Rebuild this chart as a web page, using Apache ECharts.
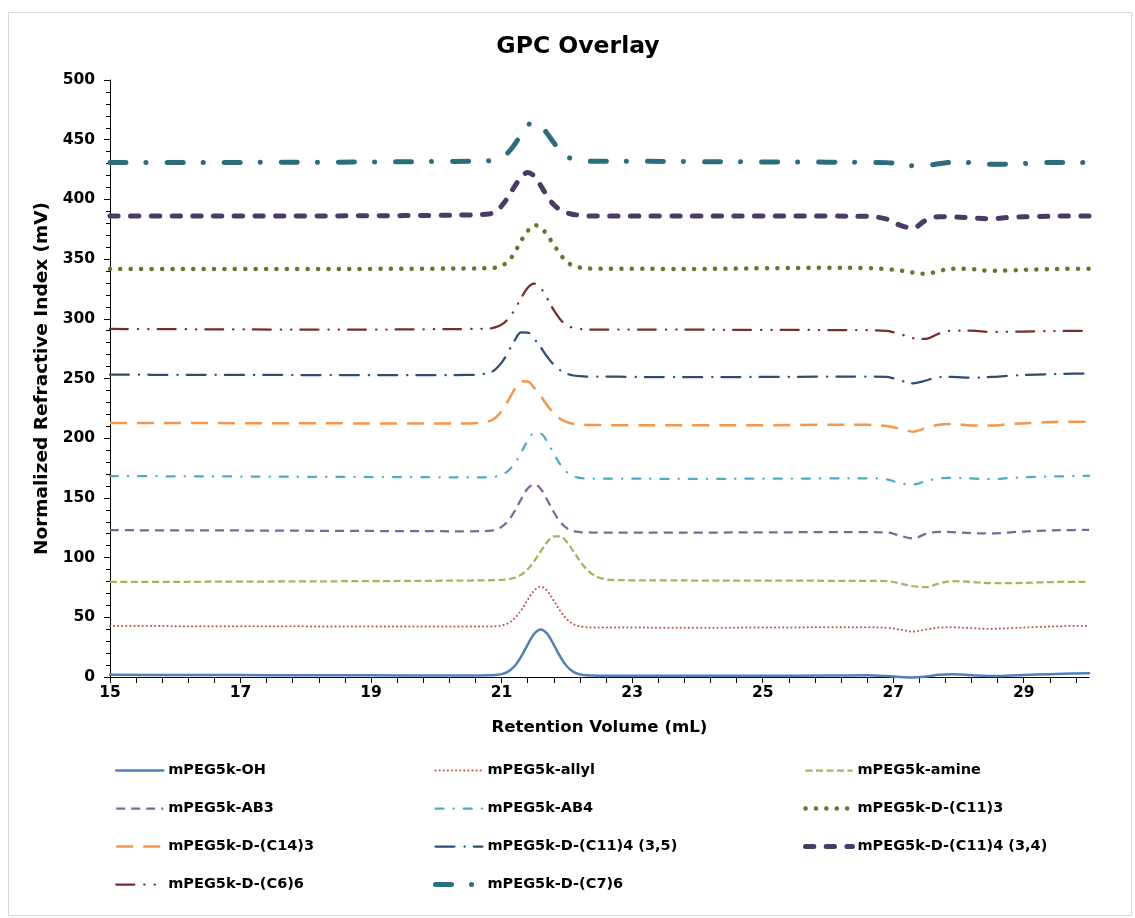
<!DOCTYPE html>
<html>
<head>
<meta charset="utf-8">
<script src="https://cdn.jsdelivr.net/npm/echarts@6/dist/echarts.min.js"></script>
<style>
  html, body { margin: 0; padding: 0; background: #ffffff; }
  #chart { width: 1135px; height: 918px; }
</style>
</head>
<body>
<div id="chart"></div>
<script>
// Retention volume (mL) sampling points shared by all traces
const retentionVolume = [15, 16, 17, 18, 19, 20, 20.5, 20.8, 20.9, 21, 21.1, 21.2, 21.3, 21.4, 21.5, 21.6, 21.7, 21.8, 21.9, 22, 22.1, 22.2, 22.3, 22.4, 22.5, 22.6, 22.7, 22.8, 23, 23.5, 24, 25, 26, 26.6, 26.9, 27.1, 27.3, 27.5, 27.7, 27.9, 28.2, 28.5, 28.8, 29.2, 29.6, 30];

// Normalized refractive index (mV), one array per sample (offset overlay)
const riOH = [1.8, 1.7, 1.6, 1.5, 1.4, 1.3, 1.3, 1.4, 1.6, 2.4, 4.5, 9.2, 17.1, 27.2, 36.2, 39.8, 36.1, 27.0, 16.9, 9.0, 4.3, 2.2, 1.4, 1.2, 1.1, 1.1, 1.1, 1.1, 1.1, 1.0, 1.0, 1.0, 1.2, 1.4, 0.8, 0.0, -0.4, 0.4, 1.8, 2.2, 1.5, 0.8, 1.2, 2.0, 2.7, 3.1];
const riAllyl = [42.7, 42.6, 42.5, 42.4, 42.3, 42.2, 42.2, 42.3, 42.5, 43.1, 45.0, 49.1, 55.9, 64.7, 72.5, 75.7, 72.0, 64.0, 55.2, 48.4, 44.3, 42.4, 41.7, 41.5, 41.4, 41.4, 41.4, 41.4, 41.4, 41.3, 41.3, 41.4, 41.6, 41.6, 41.2, 39.8, 38.0, 39.8, 41.4, 41.6, 41.0, 40.3, 41.0, 41.8, 42.6, 42.8];
const riAmine = [79.6, 79.7, 79.9, 80.1, 80.3, 80.6, 80.8, 81.0, 81.1, 81.3, 81.8, 83.1, 85.7, 90.3, 97.1, 105.3, 113.0, 117.7, 117.7, 113.0, 105.3, 97.1, 90.3, 85.7, 83.1, 81.8, 81.3, 81.1, 81.0, 80.9, 80.8, 80.7, 80.6, 80.5, 80.3, 78.5, 76.0, 75.3, 78.3, 80.3, 79.6, 78.6, 78.6, 79.2, 79.6, 79.6];
const riAB3 = [123.0, 122.8, 122.7, 122.5, 122.3, 122.1, 122.0, 122.4, 123.3, 125.7, 130.7, 138.9, 149.0, 157.9, 161.3, 157.5, 148.3, 138.0, 129.7, 124.7, 122.3, 121.4, 121.1, 121.0, 121.0, 121.0, 121.0, 121.0, 121.0, 121.0, 121.0, 121.1, 121.3, 121.3, 121.0, 118.5, 116.0, 119.8, 121.6, 121.3, 120.5, 120.2, 121.2, 122.4, 123.0, 123.2];
const riAB4 = [168.3, 168.1, 167.9, 167.7, 167.5, 167.3, 167.2, 167.3, 167.8, 169.3, 172.7, 179.0, 188.1, 197.8, 204.2, 203.8, 196.9, 187.1, 177.9, 171.6, 168.2, 166.7, 166.3, 166.2, 166.2, 166.1, 166.1, 166.1, 166.1, 166.0, 166.0, 166.1, 166.3, 166.4, 165.6, 162.5, 161.2, 164.0, 166.3, 166.8, 166.3, 165.6, 166.7, 167.6, 168.1, 168.4];
const riC11x3 = [341.8, 341.8, 341.7, 341.7, 341.8, 342.0, 342.2, 342.3, 342.8, 344.5, 348.0, 355.5, 365.5, 373.5, 378.5, 376.5, 370.0, 362.0, 354.0, 347.5, 344.5, 343.0, 342.3, 342.0, 342.0, 341.9, 341.9, 341.9, 341.9, 341.8, 341.8, 342.3, 342.8, 342.5, 341.5, 340.6, 338.8, 337.7, 340.0, 342.0, 341.6, 340.2, 340.6, 341.4, 341.8, 342.0];
const riC14x3 = [212.8, 212.7, 212.6, 212.5, 212.4, 212.4, 212.4, 214.1, 216.9, 222.7, 231.4, 241.0, 247.6, 247.4, 242.2, 235.2, 227.5, 220.9, 216.2, 213.4, 212.0, 211.4, 211.1, 211.0, 211.0, 211.0, 210.9, 210.9, 210.9, 210.8, 210.8, 210.9, 211.2, 211.2, 210.2, 208.0, 205.5, 208.5, 211.3, 211.9, 210.7, 210.6, 212.0, 213.0, 213.8, 213.8];
const riC11x4a = [253.2, 253.1, 253.0, 252.9, 252.8, 252.8, 253.0, 254.6, 257.5, 263.3, 272.1, 281.9, 288.6, 288.5, 283.1, 276.0, 268.2, 261.5, 256.8, 254.0, 252.5, 251.9, 251.6, 251.5, 251.5, 251.5, 251.5, 251.5, 251.3, 251.2, 251.2, 251.3, 251.5, 251.6, 251.3, 248.5, 246.0, 248.3, 251.2, 251.3, 250.7, 251.3, 252.3, 253.3, 253.9, 254.2];
const riC11x4b = [386.0, 386.0, 386.0, 386.1, 386.3, 386.6, 387.0, 387.8, 389.5, 394.5, 402.0, 411.0, 418.6, 422.5, 419.5, 411.5, 402.5, 395.5, 391.2, 388.8, 387.4, 386.8, 386.3, 386.1, 386.0, 386.0, 386.0, 386.0, 386.0, 386.0, 386.0, 386.0, 386.0, 385.8, 383.5, 378.5, 376.0, 382.5, 385.5, 385.4, 384.5, 383.8, 385.0, 385.6, 386.0, 386.0];
const riC6x6 = [291.5, 291.3, 291.1, 291.0, 291.0, 291.3, 291.5, 291.9, 292.8, 295.1, 299.9, 307.7, 317.5, 326.1, 329.5, 325.6, 317.0, 307.2, 299.4, 294.6, 292.3, 291.4, 291.1, 291.0, 291.0, 291.0, 291.0, 291.0, 291.0, 291.0, 290.9, 290.7, 290.6, 290.5, 289.8, 287.3, 283.8, 283.2, 287.6, 290.0, 290.0, 289.0, 289.2, 289.5, 289.8, 290.0];
const riC7x6 = [431.0, 431.0, 431.0, 431.1, 431.3, 431.7, 432.0, 432.3, 433.1, 435.1, 439.3, 446.1, 454.6, 462.0, 465.0, 462.0, 455.0, 447.5, 440.5, 436.0, 433.6, 432.5, 432.1, 432.0, 432.0, 432.0, 432.0, 432.0, 432.0, 431.8, 431.6, 431.4, 431.2, 431.0, 430.8, 429.8, 428.2, 428.4, 429.8, 431.0, 430.8, 429.5, 429.6, 430.6, 431.0, 431.0];

// Axis tick labels
const xLabelValues = [15, 17, 19, 21, 23, 25, 27, 29];

const FONT = 'DejaVu Sans';

// Trace styling: colour, width, dash pattern, cap
const traces = [
  { name: 'mPEG5k-OH', data: riOH, color: '#4F81BD', width: 2.5, type: 'solid', cap: 'round' },
  { name: 'mPEG5k-allyl', data: riAllyl, color: '#C0504D', width: 2, type: [0.1, 4], cap: 'round' },
  { name: 'mPEG5k-amine', data: riAmine, color: '#9BBB59', width: 2.25, type: [7, 3.5], cap: 'butt' },
  { name: 'mPEG5k-AB3', data: riAB3, color: '#8064A2', width: 2.25, type: [9, 6], cap: 'butt' },
  { name: 'mPEG5k-AB4', data: riAB4, color: '#4BACC6', width: 2.25, type: [8, 10, 0.3, 10], cap: 'round' },
  { name: 'mPEG5k-D-(C11)3', data: riC11x3, color: '#5F7A2F', width: 4.5, type: [0.1, 10.3], cap: 'round' },
  { name: 'mPEG5k-D-(C14)3', data: riC14x3, color: '#F79646', width: 2.5, type: [17, 10], cap: 'butt' },
  { name: 'mPEG5k-D-(C11)4 (3,5)', data: riC11x4a, color: '#2C4D75', width: 2.25, type: [19, 10, 0.3, 9], cap: 'round' },
  { name: 'mPEG5k-D-(C11)4 (3,4)', data: riC11x4b, color: '#4B3A64', width: 5, type: [8.3, 12.4], cap: 'round' },
  { name: 'mPEG5k-D-(C6)6', data: riC6x6, color: '#772C2A', width: 2.25, type: [18, 10, 0.3, 10, 0.3, 9], cap: 'round' },
  { name: 'mPEG5k-D-(C7)6', data: riC7x6, color: '#2A6E7E', width: 5, type: [16, 20, 0.1, 21], cap: 'round' }
];

const legendColumns = [
  { left: 115, names: ['mPEG5k-OH', 'mPEG5k-AB3', 'mPEG5k-D-(C14)3', 'mPEG5k-D-(C6)6'] },
  { left: 433, names: ['mPEG5k-allyl', 'mPEG5k-AB4', 'mPEG5k-D-(C11)4 (3,5)', 'mPEG5k-D-(C7)6'] },
  { left: 803, names: ['mPEG5k-amine', 'mPEG5k-D-(C11)3', 'mPEG5k-D-(C11)4 (3,4)'] }
];

// Minor/major tick positions along the retention axis, every 0.4 mL
const xTickValues = [];
for (let i = 0; i <= 37; i++) xTickValues.push(Math.round((15 + i * 0.4) * 10) / 10);

const chart = echarts.init(document.getElementById('chart'), null, { renderer: 'canvas' });

const option = {
  animation: false,
  backgroundColor: '#ffffff',
  title: {
    text: 'GPC Overlay',
    left: 573,
    top: 30,
    textAlign: 'center',
    textStyle: { fontFamily: FONT, fontWeight: 'bold', fontSize: 23.5, color: '#000000' }
  },
  graphic: [{
    type: 'rect',
    shape: { x: 8.5, y: 12.5, width: 1123, height: 903 },
    style: { fill: 'none', stroke: '#d9d9d9', lineWidth: 1 },
    silent: true,
    z: -1
  }],
  grid: { left: 110, right: 46, top: 80, bottom: 241, containLabel: false },
  legend: legendColumns.map(col => ({
    orient: 'vertical',
    left: col.left,
    top: 763,
    padding: 0,
    itemWidth: 47,
    itemHeight: 14,
    itemGap: 23,
    selectedMode: false,
    // each key uses its own trace's line width and dash pattern, without a marker
    data: col.names.map(name => {
      const t = traces.find(tr => tr.name === name);
      return {
        name: name,
        lineStyle: { color: t.color, width: t.width, type: t.type, cap: t.cap },
        itemStyle: { color: 'rgba(0,0,0,0)', borderColor: 'rgba(0,0,0,0)', borderWidth: 0 }
      };
    }),
    textStyle: { fontFamily: FONT, fontWeight: 'bold', fontSize: 14.5, color: '#000000', lineHeight: 14 }
  })),
  xAxis: {
    type: 'value',
    min: 15,
    max: 30,
    name: 'Retention Volume (mL)',
    nameLocation: 'middle',
    nameGap: 42,
    nameTextStyle: { fontFamily: FONT, fontWeight: 'bold', fontSize: 16.6, color: '#000000' },
    axisLine: { show: true, onZero: false, lineStyle: { color: '#000000', width: 1 } },
    axisTick: { show: true, length: 6, customValues: xTickValues, lineStyle: { color: '#000000', width: 1 } },
    axisLabel: { customValues: xLabelValues, margin: 8, fontFamily: FONT, fontWeight: 'bold', fontSize: 15.5, color: '#000000' },
    splitLine: { show: false }
  },
  yAxis: {
    type: 'value',
    min: 0,
    max: 500,
    interval: 50,
    name: 'Normalized Refractive Index (mV)',
    nameLocation: 'middle',
    nameGap: 56,
    nameRotate: 90,
    nameTextStyle: { fontFamily: FONT, fontWeight: 'bold', fontSize: 18.5, color: '#000000' },
    axisLine: { show: true, lineStyle: { color: '#000000', width: 1 } },
    axisTick: { show: true, length: 6, lineStyle: { color: '#000000', width: 1 } },
    minorTick: { show: true, splitNumber: 5, length: 4, lineStyle: { color: '#000000', width: 1 } },
    axisLabel: { margin: 15, fontFamily: FONT, fontWeight: 'bold', fontSize: 15.5, color: '#000000' },
    splitLine: { show: false },
    minorSplitLine: { show: false }
  },
  series: traces.map(t => ({
    name: t.name,
    type: 'line',
    data: retentionVolume.map((x, i) => [x, t.data[i]]),
    smooth: 0.35,
    showSymbol: false,
    symbol: 'none',
    clip: false,
    color: t.color,
    lineStyle: { color: t.color, width: t.width, type: t.type, cap: t.cap, join: 'round' }
  }))
};

chart.setOption(option);
</script>
</body>
</html>
